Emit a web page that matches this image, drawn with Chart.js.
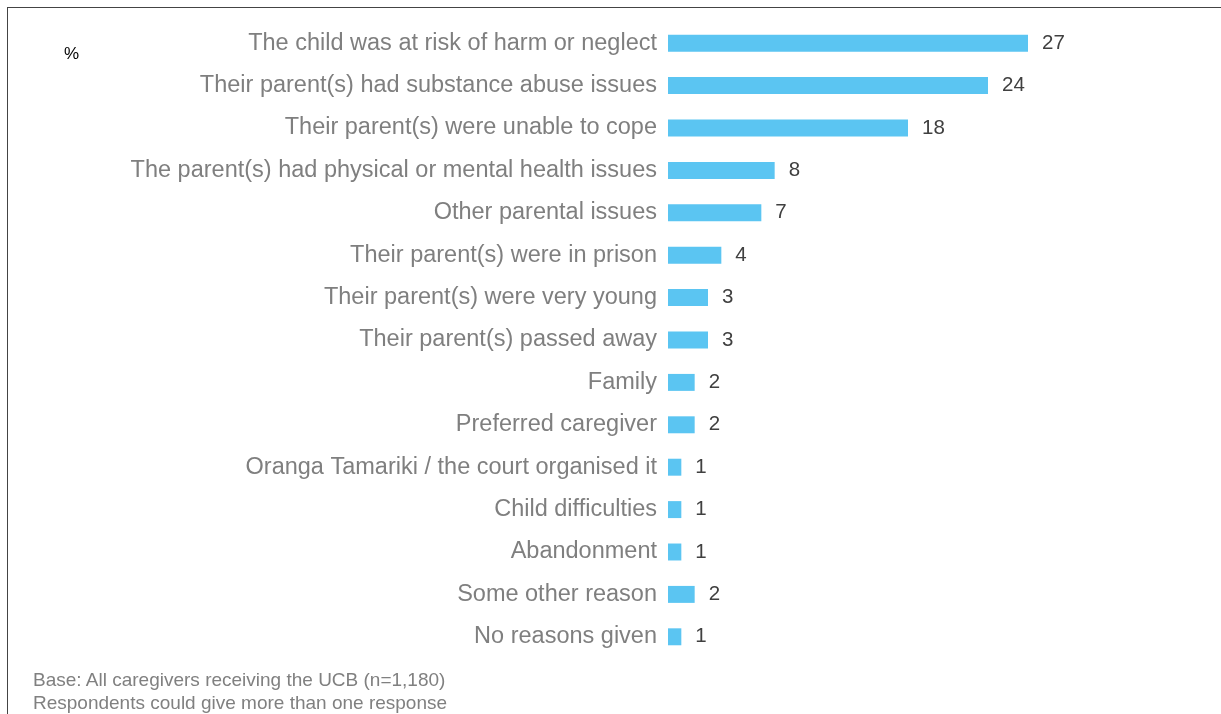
<!DOCTYPE html>
<html>
<head>
<meta charset="utf-8">
<script src="https://cdn.jsdelivr.net/npm/chart.js@4"></script>
<style>
  html, body { margin: 0; padding: 0; background: #fff; }
  #wrap { position: relative; width: 1221px; height: 714px; overflow: hidden; font-family: "Liberation Sans", Arial, sans-serif; }
  #frame { position: absolute; left: 7px; top: 7px; width: 1230px; height: 720px; border-top: 1.5px solid #444; border-left: 1.5px solid #444; box-sizing: border-box; }
  #unit { position: absolute; left: 64px; top: 44px; font-size: 17px; color: #000; }
  #note { position: absolute; left: 33px; top: 668px; font-size: 19px; line-height: 23px; color: #808080; }
  canvas { position: absolute; left: 0; top: 0; }
</style>
</head>
<body>
<div id="wrap">
  <canvas id="c" width="1221" height="714"></canvas>
  <div id="frame"></div>
  <div id="unit">%</div>
  <div id="note">Base: All caregivers receiving the UCB (n=1,180)<br>Respondents could give more than one response</div>
</div>
<script>
const reasons = [
  "The child was at risk of harm or neglect",
  "Their parent(s) had substance abuse issues",
  "Their parent(s) were unable to cope",
  "The parent(s) had physical or mental health issues",
  "Other parental issues",
  "Their parent(s) were in prison",
  "Their parent(s) were very young",
  "Their parent(s) passed away",
  "Family",
  "Preferred caregiver",
  "Oranga Tamariki / the court organised it",
  "Child difficulties",
  "Abandonment",
  "Some other reason",
  "No reasons given"
];
const percentages = [27, 24, 18, 8, 7, 4, 3, 3, 2, 2, 1, 1, 1, 2, 1];

// Writes each bar's value just past its end
const valueLabels = {
  id: 'valueLabels',
  afterDatasetsDraw(chart) {
    const ctx = chart.ctx;
    const meta = chart.getDatasetMeta(0);
    ctx.save();
    ctx.font = '20.5px "Liberation Sans", Arial, sans-serif';
    ctx.fillStyle = '#404040';
    ctx.textAlign = 'left';
    ctx.textBaseline = 'middle';
    meta.data.forEach((bar, i) => {
      ctx.fillText(String(percentages[i]), bar.x + 14, bar.y);
    });
    ctx.restore();
  }
};

new Chart(document.getElementById('c'), {
  type: 'bar',
  data: {
    labels: reasons,
    datasets: [{
      data: percentages,
      backgroundColor: '#5BC5F2',
      borderWidth: 0,
      barPercentage: 0.4,
      categoryPercentage: 1.0
    }]
  },
  options: {
    indexAxis: 'y',
    responsive: false,
    animation: false,
    layout: { padding: { top: 22, bottom: 56, left: 0, right: 153 } },
    plugins: { legend: { display: false }, tooltip: { enabled: false } },
    scales: {
      x: { min: 0, max: 30, display: false, grid: { display: false } },
      y: {
        grid: { display: false, drawTicks: false },
        border: { display: false },
        afterFit(scale) {
          // fixed label column; the layout padding alone sets the plot's top and bottom
          scale.width = 668;
          scale.paddingTop = 0;
          scale.paddingBottom = 0;
        },
        ticks: {
          padding: 11,
          color: '#7f7f7f',
          font: { size: 23.5, family: '"Liberation Sans", Arial, sans-serif' }
        }
      }
    }
  },
  plugins: [valueLabels]
});
</script>
</body>
</html>
